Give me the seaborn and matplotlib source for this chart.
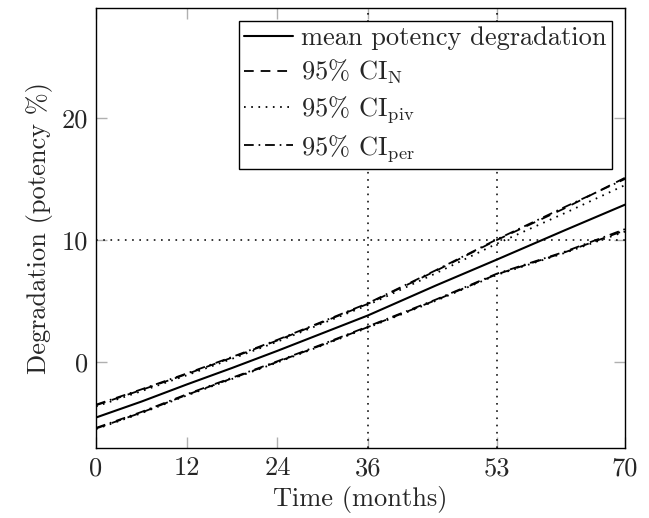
import matplotlib
matplotlib.use("Agg")
import matplotlib.pyplot as plt
import seaborn as sns
import pandas as pd

# ---- data ----
months = [0, 6, 12, 18, 24, 30, 36, 45, 53, 62, 70]
mean_deg = [-4.5, -3.2, -1.8, -0.45, 0.95, 2.4, 3.85, 6.3, 8.4, 10.8, 12.9]
ci_n_upper = [-3.5, -2.25, -0.95, 0.4, 1.8, 3.3, 4.8, 7.5, 10.0, 12.6, 15.1]
ci_n_lower = [-5.4, -4.1, -2.65, -1.3, 0.05, 1.45, 2.9, 5.1, 7.2, 9.0, 10.8]
ci_piv_upper = [-3.6, -2.35, -1.05, 0.3, 1.7, 3.2, 4.7, 7.3, 9.7, 12.2, 14.5]
ci_piv_lower = [-5.45, -4.15, -2.7, -1.35, 0.0, 1.4, 2.85, 5.05, 7.15, 8.95, 10.7]
ci_per_upper = [-3.45, -2.2, -0.9, 0.45, 1.85, 3.35, 4.85, 7.55, 10.05, 12.7, 15.0]
ci_per_lower = [-5.35, -4.05, -2.6, -1.25, 0.1, 1.5, 2.95, 5.15, 7.25, 9.05, 10.9]

x_ticks = [0, 12, 24, 36, 53, 70]
y_ticks = [0, 10, 20]
ref_months = [36, 53]
ref_level = 10

sns.set_style("ticks")
plt.rcParams.update({
    "font.family": "serif",
    "font.serif": ["cmr10", "DejaVu Serif"],
    "mathtext.fontset": "cm",
    "axes.formatter.use_mathtext": True,
    "axes.unicode_minus": False,
    "lines.scale_dashes": False,
    "font.size": 19,
})

FS = 19
fig = plt.figure(figsize=(6.49, 5.18), dpi=100)
ax = fig.add_axes([0.148, 0.135, 0.815, 0.850])

df = pd.DataFrame({
    "t": months, "mean": mean_deg,
    "nu": ci_n_upper, "nl": ci_n_lower,
    "pu": ci_piv_upper, "pl": ci_piv_lower,
    "eu": ci_per_upper, "el": ci_per_lower,
})

lw = 1.3
dashed = (0, (7, 5))
dotted = (0, (1.2, 4))
dashdot = (0, (7, 3.5, 1.2, 3.5))

sns.lineplot(data=df, x="t", y="mean", ax=ax, color="black", lw=1.5,
             label="mean potency degradation")
sns.lineplot(data=df, x="t", y="nu", ax=ax, color="black", lw=lw,
             linestyle=dashed, label=r"95% CI$_{\mathrm{N}}$")
sns.lineplot(data=df, x="t", y="nl", ax=ax, color="black", lw=lw,
             linestyle=dashed)
sns.lineplot(data=df, x="t", y="pu", ax=ax, color="black", lw=lw,
             linestyle=dotted, label=r"95% CI$_{\mathrm{piv}}$")
sns.lineplot(data=df, x="t", y="pl", ax=ax, color="black", lw=lw,
             linestyle=dotted)
sns.lineplot(data=df, x="t", y="eu", ax=ax, color="black", lw=lw,
             linestyle=dashdot, label=r"95% CI$_{\mathrm{per}}$")
sns.lineplot(data=df, x="t", y="el", ax=ax, color="black", lw=lw,
             linestyle=dashdot)

for m in ref_months:
    ax.axvline(m, color="black", lw=1.1, linestyle=dotted, zorder=1)
ax.axhline(ref_level, color="black", lw=1.1, linestyle=dotted, zorder=1)

ax.set_xlim(0, 70)
ax.set_ylim(-7, 29)
ax.set_xticks(x_ticks)
ax.set_yticks(y_ticks)
ax.set_xticklabels([str(v) for v in x_ticks])
ax.set_yticklabels([str(v) for v in y_ticks])
ax.tick_params(direction="in", length=8, width=1, color="#b0b0b0",
               top=True, right=True, labelsize=FS, pad=6)
for s in ax.spines.values():
    s.set_color("black")
    s.set_linewidth(1.0)

ax.set_xlabel("Time (months)", fontsize=FS, labelpad=4)
ax.set_ylabel(r"Degradation (potency %)", fontsize=FS, labelpad=6)

leg = ax.legend(loc="upper right", fontsize=FS, frameon=True, fancybox=False,
                edgecolor="black", framealpha=1, handlelength=1.85,
                handletextpad=0.3, borderpad=0.2, labelspacing=0.3,
                borderaxespad=0.5)
leg.get_frame().set_linewidth(1.0)

fig.savefig("out.png", dpi=100)
